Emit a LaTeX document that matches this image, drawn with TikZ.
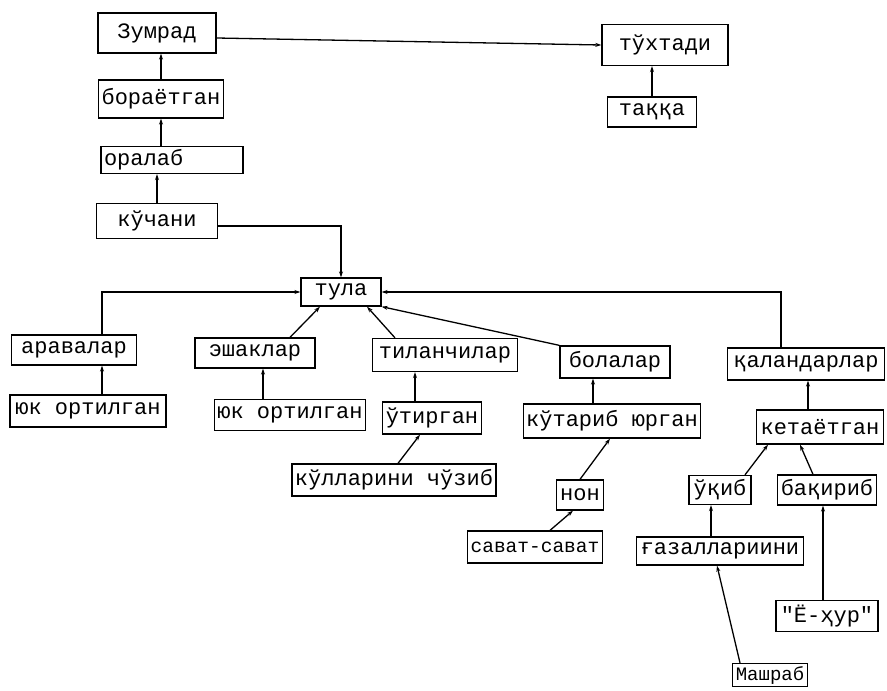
\documentclass[tikz,border=0pt]{standalone}
\usepackage{fontspec}
\usepackage{tikz}
\usetikzlibrary{arrows.meta}
\newfontfamily\typewr{Liberation Mono}

\begin{document}
\begin{tikzpicture}[x=1pt,y=-1pt,
  word/.style={draw,line width=1.3pt,inner xsep=3pt,inner ysep=0pt,minimum height=30pt,
    font=\typewr\fontsize{22}{24}\selectfont},
  link/.style={line width=1.3pt,-{Stealth[length=6pt,width=4pt]}}]
\useasboundingbox (0,0) rectangle (887,691);

%Top chain
\node[word,minimum width=118pt,minimum height=40pt] (zumrad) at (157,33) {Зумрад};
\node[word,minimum width=126pt,minimum height=41pt] (tuxtadi) at (665,45) {тўхтади};
\node[word,minimum width=89pt] (takka) at (652,112) {таққа};
\node[word,minimum width=114pt,minimum height=38pt] (boraetgan) at (161,99) {бораётган};
\node[word,minimum height=27pt,text width=136pt,align=left] (oralab) at (172,160) {оралаб};
\node[word,minimum width=121pt,minimum height=35pt] (kuchani) at (157,221) {кўчани};
\node[word,minimum width=80pt,minimum height=28pt] (tula) at (341,292) {тула};

%Left branches
\node[word,minimum width=125pt] (aravalar) at (74,350) {аравалар};
\node[word,minimum width=156pt,minimum height=32pt] (yuk1) at (88,411) {юк ортилган};
\node[word,minimum width=120pt] (eshaklar) at (255,353) {эшаклар};
\node[word,minimum width=143pt,minimum height=31pt] (yuk2) at (290,415) {юк ортилган};
\node[word,minimum width=145pt,minimum height=33pt] (tilanchilar) at (445,355) {тиланчилар};
\node[word,minimum width=98pt,minimum height=32pt] (utirgan) at (432,418) {ўтирган};
\node[word,minimum width=204pt,minimum height=32pt] (kullarini) at (394,480) {кўлларини чўзиб};

%Middle branch
\node[word,minimum width=110pt,minimum height=32pt] (bolalar) at (615,362) {болалар};
\node[word,minimum width=176pt,minimum height=34pt] (kutarib) at (612,421) {кўтариб юрган};
\node[word,minimum width=47pt] (non) at (580,495) {нон};
\node[word,minimum width=130pt,minimum height=32pt,font=\typewr\fontsize{19.5}{22}\selectfont] (savat) at (535,547) {сават-сават};

%Right branch
\node[word,minimum width=157pt,minimum height=32pt] (qalandarlar) at (806,364) {қаландарлар};
\node[word,minimum width=127pt,minimum height=34pt] (ketaetgan) at (820,427) {кетаётган};
\node[word,minimum width=62pt,minimum height=29pt] (uqib) at (720,490) {ўқиб};
\node[word,minimum width=98pt] (baqirib) at (827,490) {бақириб};
\node[word,minimum width=167pt,minimum height=28pt] (gazal) at (720,551) {ғазаллариини};
\node[word,minimum width=102pt,minimum height=31pt] (eyhur) at (827,616) {"Ё-ҳур"};
\node[word,minimum width=69pt,minimum height=23pt,font=\typewr\fontsize{19}{20}\selectfont] (mashrab) at (770,675) {Машраб};

% Connectors
\draw[link] ([yshift=-5pt]zumrad.east) -- (tuxtadi.west);
\draw[link] (takka.north) -- (takka.north |- tuxtadi.south);
\draw[link] (boraetgan.north) -- (boraetgan.north |- zumrad.south);
\draw[link] (oralab.north -| boraetgan.north) -- (boraetgan.south);
\draw[link] (kuchani.north) -- (kuchani.north |- oralab.south);
\draw[link] ([yshift=-5pt]kuchani.east) -| (tula.north);

\draw[link] ([xshift=28pt]aravalar.north) |- (tula.west);
\draw[link] ([xshift=14pt]yuk1.north) -- ([xshift=28pt]aravalar.south);
\draw[link] ([xshift=35pt]eshaklar.north) -- ([xshift=-21pt]tula.south);
\draw[link] ([xshift=-27pt]yuk2.north) -- ([xshift=8pt]eshaklar.south);
\draw[link] ([xshift=-50pt]tilanchilar.north) -- ([xshift=26pt]tula.south);
\draw[link] ([xshift=-17pt]utirgan.north) -- ([xshift=-30pt]tilanchilar.south);
\draw[link] ([xshift=4pt]kullarini.north) -- ([xshift=-12pt]utirgan.south);

\draw[link] (bolalar.north west) -- (tula.south east);
\draw[link] ([xshift=-19pt]kutarib.north) -- ([xshift=-22pt]bolalar.south);
\draw[link] (non.north) -- ([xshift=-2pt]kutarib.south);
\draw[link] ([xshift=15pt]savat.north) -- ([xshift=-7pt]non.south);

\draw[link] ([xshift=-25pt]qalandarlar.north) |- (tula.east);
\draw[link] ([xshift=-12pt]ketaetgan.north) -- ([xshift=2pt]qalandarlar.south);
\draw[link] ([xshift=25pt]uqib.north) -- ([xshift=-52pt]ketaetgan.south);
\draw[link] ([xshift=-14pt]baqirib.north) -- ([xshift=-20pt]ketaetgan.south);
\draw[link] ([xshift=-9pt]gazal.north) -- ([xshift=-9pt]uqib.south);
\draw[link] ([xshift=-4pt]eyhur.north) -- ([xshift=-4pt]baqirib.south);
\draw[link] ([xshift=-30pt]mashrab.north) -- ([xshift=-3pt]gazal.south);

\end{tikzpicture}
\end{document}
